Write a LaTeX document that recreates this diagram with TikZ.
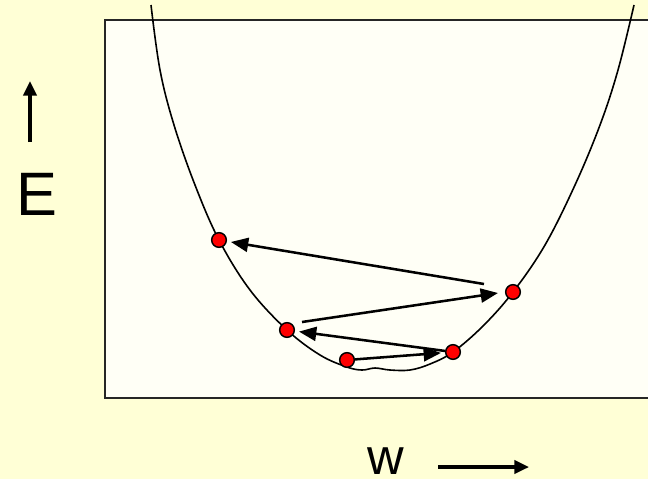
\documentclass[tikz,border=0pt]{standalone}
\usepackage{fontspec}
\setmainfont{Liberation Sans}
\usetikzlibrary{arrows.meta}
\definecolor{outerbg}{RGB}{255,255,214}
\definecolor{innerbg}{RGB}{255,255,246}
\definecolor{dotred}{RGB}{255,0,0}
\tikzset{
  dot/.style={circle,fill=dotred,draw=black,line width=1.1pt,inner sep=0pt,minimum size=11pt},
  jump/.style={line width=1.9pt,-{Triangle[length=13pt,width=10.5pt]},shorten >=3pt},
  axisarrow/.style={line width=2.4pt,-{Triangle[length=11pt,width=10pt]}},
  lbl/.style={inner sep=0pt}
}
\begin{document}
\begin{tikzpicture}[x=0.75pt,y=-0.75pt]
\useasboundingbox (0,0) rectangle (648,479);
\fill[outerbg] (0,0) rectangle (648,479);
\draw[fill=innerbg,line width=1.6pt,draw=black!85] (105,20) rectangle (652,398);
% curve
\draw[line width=1.2pt] plot[smooth,tension=0.6] coordinates {
 (151,5) (160,70) (174,125) (195,185) (219,240) (250,290) (287,330) (320,355) (347,367)
 (362,370) (375,368) (390,370) (410,370) (430,364) (453,352) (483,326) (513,292)
 (545,245) (575,185) (600,125) (618,70) (634,5)};
% dots
\node[dot] (A) at (219,240) {};
\node[dot] (B) at (513,292) {};
\node[dot] (C) at (287,330) {};
\node[dot] (D) at (347,360) {};
\node[dot] (E) at (453,352) {};
% jumps
\coordinate (Bs) at (484,284);
\coordinate (Cs) at (302,322);
\coordinate (Bt) at (498,293);
\draw[jump] (Bs) -- (A);
\draw[jump,shorten >=0pt] (Cs) -- (Bt);
\draw[jump] (E) -- (C);
\draw[jump] (D) -- (E);
% axis labels
\node[lbl,font=\fontsize{46pt}{50pt}\selectfont] (Elbl) at (36.5,194.5) {E};
\coordinate (Ea) at (30,142);
\coordinate (Eb) at (30,81);
\draw[axisarrow] (Ea) -- (Eb);
\node[lbl,font=\fontsize{38pt}{42pt}\selectfont] (wlbl) at (385.5,461) {w};
\coordinate (wa) at (438,467);
\coordinate (wb) at (529,467);
\draw[axisarrow] (wa) -- (wb);
\end{tikzpicture}
\end{document}
